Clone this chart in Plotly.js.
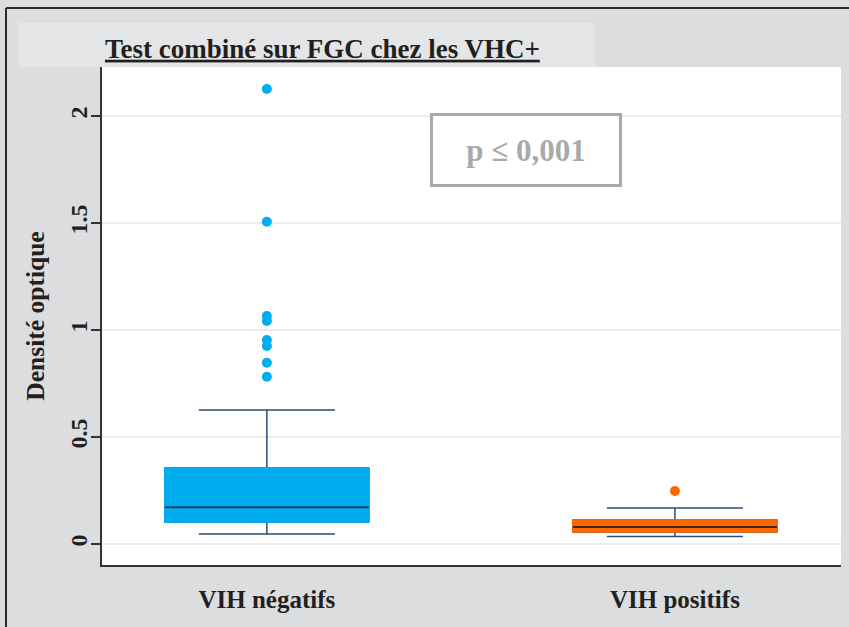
<!DOCTYPE html>
<html><head><meta charset="utf-8">
<script src="https://cdn.plot.ly/plotly-3.0.1.min.js"></script>
<style>html,body{margin:0;padding:0;background:#dcdddf}</style>
</head><body><div id="chart" style="width:849px;height:627px"></div>
<script>
// ---- data ----
const categories = ["VIH négatifs", "VIH positifs"];
const q1 = [0.103, 0.056];
const median = [0.172, 0.079];
const q3 = [0.355, 0.112];
const lowerWhisker = [0.047, 0.035];
const upperWhisker = [0.626, 0.168];
const outliersNeg = [2.126, 1.506, 1.065, 1.042, 0.953, 0.925, 0.847, 0.782];
const outliersPos = [0.248];
const yTickVals = [0, 0.5, 1, 1.5, 2];
const yTickText = ["0", "0.5", "1", "1.5", "2"];
const pValueText = "p ≤ 0,001";

// ---- styles ----
const fillColors = ["#00aeef", "#ff6600"];
const medianColors = ["#1f3d66", "#3d2a22"];
const whiskerColor = "#2b4d77";
const serif = '"Liberation Serif", "Times New Roman", serif';

const traces = [];
categories.forEach((c, i) => {
  traces.push({type:'box', x:[i], q1:[q1[i]], median:[median[i]], q3:[q3[i]],
    lowerfence:[lowerWhisker[i]], upperfence:[upperWhisker[i]],
    width:0.5, whiskerwidth:0.667, fillcolor:fillColors[i],
    line:{color:whiskerColor, width:1.5}, hoverinfo:'skip', showlegend:false});
  traces.push({type:'box', x:[i], q1:[q1[i]], median:[median[i]], q3:[q3[i]],
    lowerfence:[q1[i]], upperfence:[q3[i]],
    width:0.5, whiskerwidth:0, fillcolor:fillColors[i],
    line:{color:fillColors[i], width:1.5}, hoverinfo:'skip', showlegend:false});
  traces.push({type:'box', x:[i], q1:[median[i]], median:[median[i]], q3:[median[i]],
    lowerfence:[median[i]], upperfence:[median[i]],
    width:0.5, whiskerwidth:0, fillcolor:medianColors[i],
    line:{color:medianColors[i], width:2}, hoverinfo:'skip', showlegend:false});
});
[outliersNeg, outliersPos].forEach((arr, i) => {
  traces.push({type:'scatter', mode:'markers', x:arr.map(() => i), y:arr,
    marker:{color:fillColors[i], size:10}, hoverinfo:'skip', showlegend:false});
});

const layout = {
  width:849, height:627,
  paper_bgcolor:'#dcdddf', plot_bgcolor:'#ffffff',
  margin:{l:102, r:8, t:67, b:62},
  font:{family:serif, color:'#231f20'},
  boxmode:'overlay',
  showlegend:false,
  title:{text:'<u>Test combiné sur FGC chez les VHC+</u>',
    font:{size:27, color:'#231f20', family:serif, weight:700},
    xref:'paper', x:0.004, xanchor:'left', yref:'container', y:0.923, yanchor:'middle'},
  xaxis:{range:[-0.404, 1.407], tickvals:[0, 1], ticktext:categories,
    tickfont:{size:25, family:serif, weight:700, color:'#231f20'},
    showgrid:false, zeroline:false, showline:true, linecolor:'#333333', linewidth:2,
    ticks:'', ticklabelstandoff:11, fixedrange:true},
  yaxis:{range:[-0.098, 2.229], tickvals:yTickVals, ticktext:yTickText, tickangle:-90,
    tickfont:{size:24, family:serif, weight:700, color:'#231f20'},
    ticks:'outside', ticklen:9, tickcolor:'#333333', tickwidth:1.5,
    showline:true, linecolor:'#333333', linewidth:2,
    showgrid:true, gridcolor:'#e8eef0', gridwidth:1.2, zeroline:false,
    ticklabelstandoff:-6,
    title:{text:'Densité optique', font:{size:25.5, family:serif, weight:700, color:'#231f20'}, standoff:14}},
  shapes:[
    {type:'rect', xref:'paper', yref:'paper', x0:-0.1137, x1:0.667, y0:1.0, y1:1.0884,
      fillcolor:'#e4e5e7', line:{width:0}, layer:'below'},
    {type:'line', xref:'paper', yref:'paper', x0:-0.1299, x1:1.02, y0:1.1185, y1:1.1185,
      line:{color:'#2a2a2a', width:2}},
    {type:'line', xref:'paper', yref:'paper', x0:-0.1299, x1:-0.1299, y0:-0.13, y1:1.1185,
      line:{color:'#2a2a2a', width:2}}
  ],
  annotations:[
    {xref:'paper', yref:'paper', x:0.5737, y:0.8333, xanchor:'center', yanchor:'middle',
      text:pValueText, showarrow:false, width:180, height:62, borderpad:3, borderwidth:3,
      bordercolor:'#a7a9ac', bgcolor:'#ffffff',
      font:{size:31, family:serif, weight:700, color:'#a7a9ac'}}
  ]
};

Plotly.newPlot('chart', traces, layout, {displayModeBar:false, staticPlot:true});
</script></body></html>
